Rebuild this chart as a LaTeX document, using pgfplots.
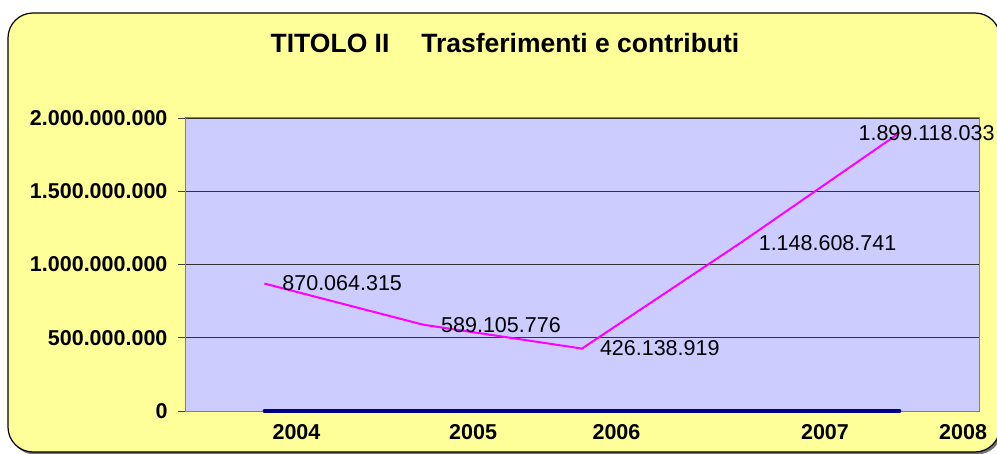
\documentclass[border=0pt]{standalone}
\usepackage{pgfplots}
\pgfplotsset{compat=1.18}
\usepackage{fontspec}
\setmainfont{Liberation Sans}
\definecolor{bgyellow}{HTML}{FFFF99}
\definecolor{plotbg}{HTML}{CCCCFF}
\definecolor{navyline}{HTML}{000080}
\definecolor{magline}{HTML}{FF00FF}
\begin{document}
\begin{tikzpicture}[x=1pt,y=1pt]
\useasboundingbox (0,0) rectangle (997,453);
\clip (0,0) rectangle (997,453);
\fill[black!55, rounded corners=25pt] (10,-1.5) rectangle (1002,438);
\filldraw[fill=bgyellow, draw=black, line width=1.2pt, rounded corners=25pt] (8,1) rectangle (1000,440);
\node[anchor=base, inner sep=0pt, font=\fontsize{26.5}{30}\selectfont\bfseries] at (505,400) {TITOLO II\hspace{1.2em}Trasferimenti e contributi};
\begin{axis}[
  at={(185pt,42pt)}, anchor=south west,
  scale only axis, width=794pt, height=293pt,
  xmin=-0.5, xmax=4.5, ymin=0, ymax=2e9,
  axis background/.style={fill=plotbg},
  axis line style={draw=black!50, line width=1pt},
  ytick={0,500000000,1000000000,1500000000,2000000000},
  yticklabels={0,500.000.000,1.000.000.000,1.500.000.000,2.000.000.000},
  ymajorgrids, grid style={black!80, line width=0.8pt},
  xtick={0.202,1.314,2.217,3.53,4.40},
  xticklabels={2004,2005,2006,2007,2008},
  x tick style={draw=none},
  y tick style={black!75, line width=0.8pt},
  tick align=outside, major tick length=7pt,
  tick pos=left,
  ticklabel style={font=\fontsize{21.5}{23}\selectfont\bfseries},
  xticklabel style={yshift=-3pt},
  yticklabel style={xshift=-7pt},
  scaled y ticks=false,
  clip=false,
]
\addplot[navyline, line width=3.5pt, line cap=round, mark=none] coordinates {(0,0) (1,0) (2,0) (3,0) (4,0)};
\addplot[magline, line width=2pt, mark=none,
  nodes near coords, point meta=explicit symbolic,
  visualization depends on={\thisrow{dx} \as \dx},
  every node near coord/.append style={anchor=west, inner sep=0pt, xshift=\dx pt, text=black, font=\fontsize{21.5}{24}\selectfont},
] table[x=x, y=y, meta=lbl] {
x y lbl dx
0 870064315 870.064.315 17
1 589105776 589.105.776 17
2 426138919 426.138.919 17
3 1148608741 1.148.608.741 17
4 1899118033 1.899.118.033 -42
};
\end{axis}
\end{tikzpicture}
\end{document}
